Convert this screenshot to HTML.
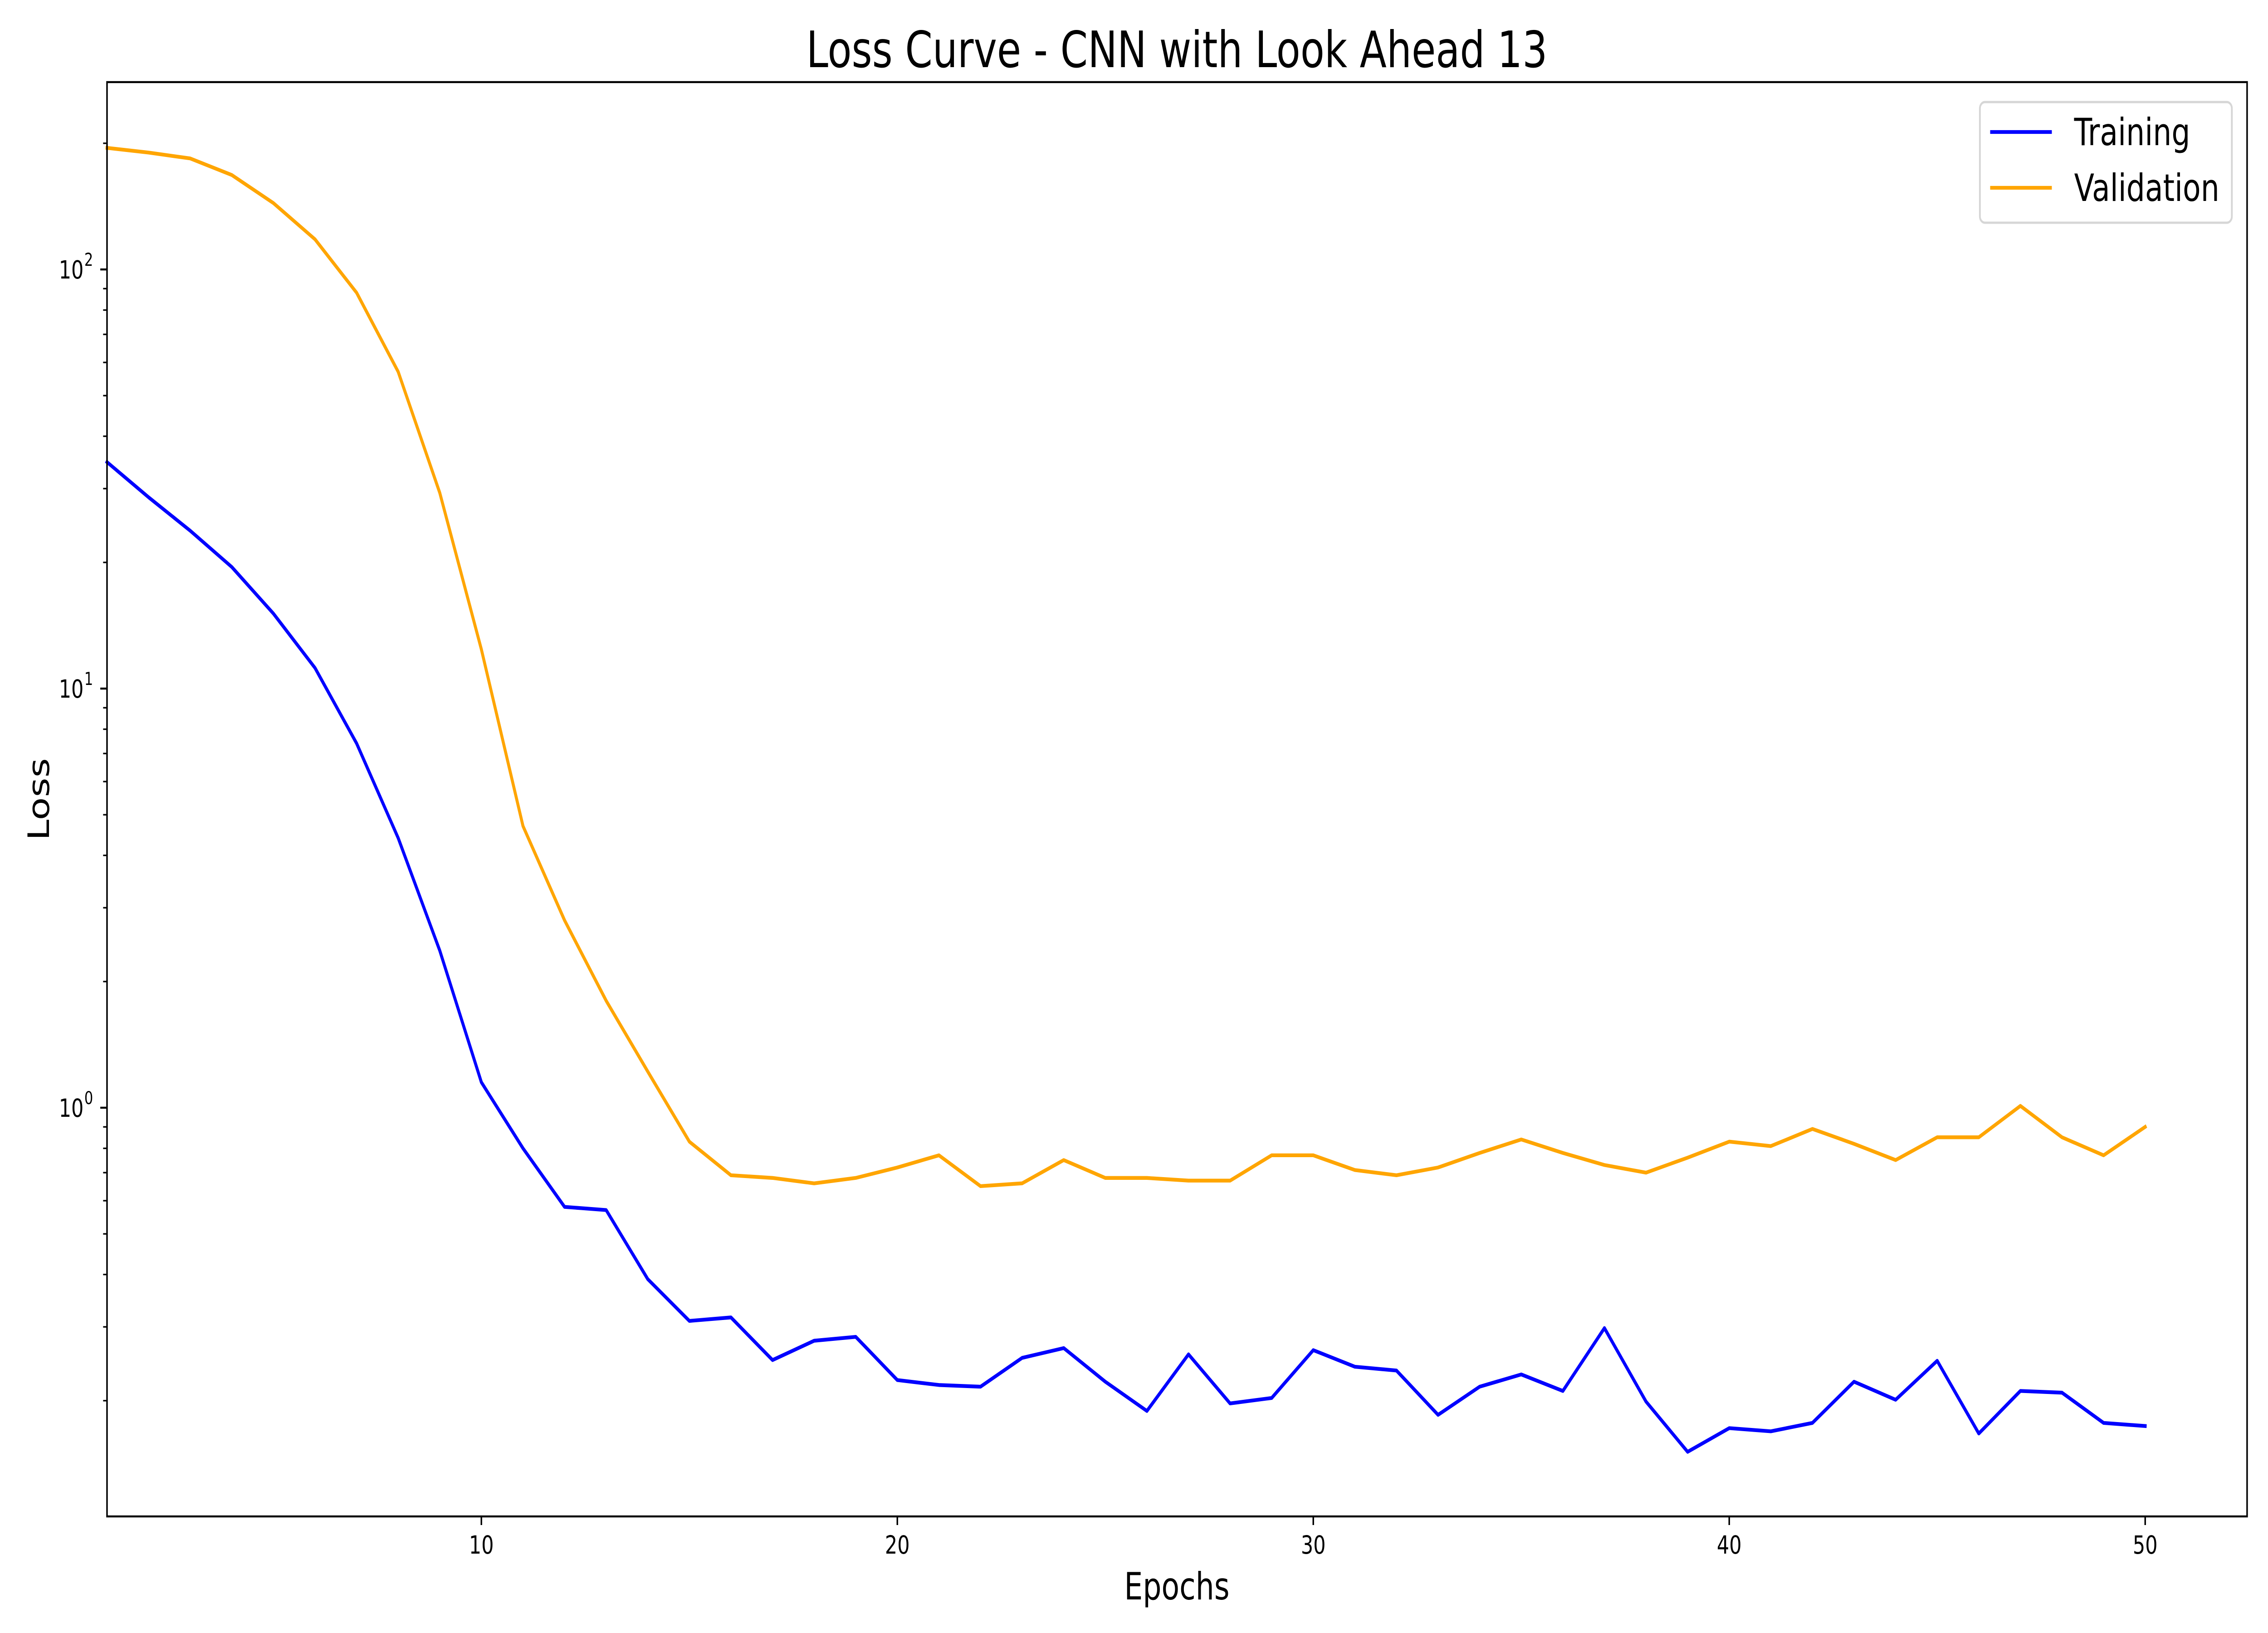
<!DOCTYPE html>
<html><head><meta charset="utf-8"><meta name="viewport" content="width=6400"><style>
html,body{margin:0;padding:0;background:#fff;overflow:hidden;width:100vw;height:100vh;}
svg{display:block;width:100vw;height:100vh;font-family:"DejaVu Sans","Liberation Sans",sans-serif;}
</style></head><body>
<svg id="chart" viewBox="0 0 6400 3600" preserveAspectRatio="none" xmlns="http://www.w3.org/2000/svg">
<rect width="6400" height="3600" fill="#fff"/>
<text x="3321" y="148" font-size="111" text-anchor="middle">Loss Curve - CNN with Look Ahead 13</text>
<text x="3321" y="3526" font-size="83" text-anchor="middle">Epochs</text>
<text transform="translate(138,1762) rotate(-90)" x="0" y="0" font-size="83" text-anchor="middle">Loss</text>
<g id="plot"></g>
<g id="axes"></g>
<g id="legend">
<rect x="5587" y="225" width="711" height="266" rx="14" fill="#fff" fill-opacity="0.8" stroke="#d6d6d6" stroke-width="5"/>
<line x1="5616" y1="291" x2="5790" y2="291" stroke="#0000ff" stroke-width="8.3"/>
<text x="5853" y="320" font-size="83">Training</text>
<line x1="5616" y1="414" x2="5790" y2="414" stroke="#ffa500" stroke-width="8.3"/>
<text x="5853" y="443" font-size="83">Validation</text>
</g>
</svg>
<script>
const epochs = [1,2,3,4,5,6,7,8,9,10,11,12,13,14,15,16,17,18,19,20,21,22,23,24,25,26,27,28,29,30,31,32,33,34,35,36,37,38,39,40,41,42,43,44,45,46,47,48,49,50];
const trainingLoss = [34.7,28.6,23.8,19.5,15.1,11.2,7.4,4.4,2.37,1.15,0.80,0.58,0.57,0.39,0.31,0.316,0.25,0.278,0.284,0.224,0.218,0.216,0.253,0.267,0.222,0.189,0.258,0.197,0.203,0.264,0.241,0.236,0.185,0.216,0.231,0.211,0.298,0.199,0.151,0.172,0.169,0.177,0.222,0.201,0.249,0.167,0.211,0.209,0.177,0.174];
const validationLoss = [195,190,184,168,144,118,88,57,29.3,12.4,4.7,2.8,1.80,1.22,0.83,0.69,0.68,0.66,0.68,0.72,0.77,0.65,0.66,0.75,0.68,0.68,0.67,0.67,0.77,0.77,0.71,0.69,0.72,0.78,0.84,0.78,0.73,0.70,0.76,0.83,0.81,0.89,0.82,0.75,0.85,0.85,1.01,0.85,0.77,0.90];
const xTicks = [10,20,30,40,50];
const yDecades = [0,1,2];
const yMinorDecades = [-1,0,1,2];

const L=302,R=6341,T=181,B=3343;
const XMIN=1,XMAX=52.45;
const Y0=2442, DEC=924;
function xs(v){return L+(v-XMIN)/(XMAX-XMIN)*(R-L);}
function ys(v){return Y0-Math.log10(v)*DEC;}
const NS="http://www.w3.org/2000/svg";
function mk(tag,attrs,parent){const e=document.createElementNS(NS,tag);for(const k in attrs)e.setAttribute(k,attrs[k]);parent.appendChild(e);return e;}
const plot=document.getElementById('plot');
const axes=document.getElementById('axes');

function series(vals,color,name){
  const pts=epochs.map((e,i)=>xs(e).toFixed(1)+','+ys(vals[i]).toFixed(1)).join(' ');
  const p=mk('polyline',{points:pts,fill:'none',stroke:color,'stroke-width':8.3,'stroke-linejoin':'round','stroke-linecap':'square'},plot);
  
  
}
series(trainingLoss,'#0000ff','training-line');
series(validationLoss,'#ffa500','validation-line');

const fr=mk('rect',{x:L,y:T,width:R-L,height:B-T,fill:'none',stroke:'#000','stroke-width':4.4},axes);



xTicks.forEach(t=>{
  const x=xs(t);
  const ln=mk('line',{x1:x,y1:B,x2:x,y2:B+19,stroke:'#000','stroke-width':4.4},axes);
  
  
  const tx=mk('text',{x:x,y:3425,'font-size':55,'text-anchor':'middle'},axes);
  tx.textContent=String(t);
  
  
});
yDecades.forEach(d=>{
  const y=ys(Math.pow(10,d));
  const ln=mk('line',{x1:L-19,y1:y,x2:L,y2:y,stroke:'#000','stroke-width':4.4},axes);
  
  
  const tx=mk('text',{x:236,y:y+20,'font-size':55,'text-anchor':'end'},axes);
  tx.textContent='10';
  
  
  const sp=mk('text',{x:238,y:y-8,'font-size':39,'text-anchor':'start'},axes);
  sp.textContent=String(d);
  
  
});
yMinorDecades.forEach(d=>{
  for(let m=2;m<=9;m++){
    const v=m*Math.pow(10,d);
    const y=ys(v);
    if(y<T||y>B)continue;
    const ln=mk('line',{x1:L-11,y1:y,x2:L,y2:y,stroke:'#000','stroke-width':3.3},axes);
    
    
  }
});
</script>
</body></html>
